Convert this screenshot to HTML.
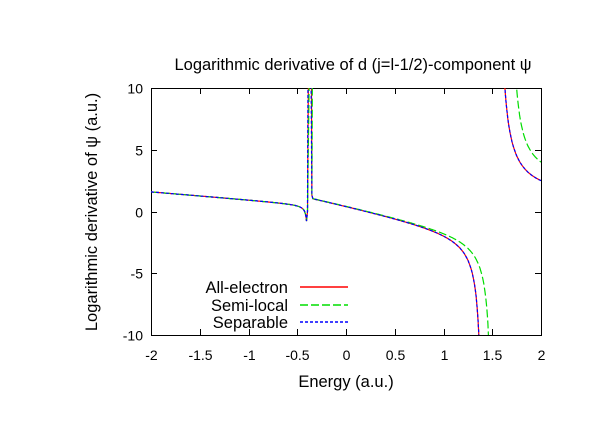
<!DOCTYPE html><html><head><style>body{margin:0;background:#fff}svg{display:block}text{font-family:"Liberation Sans",sans-serif;font-size:14px;fill:#000}.b{font-size:16.5px}</style></head><body>
<svg id="s" width="612" height="428" xmlns="http://www.w3.org/2000/svg">
<defs><clipPath id="c"><rect x="151" y="88" width="390" height="247"/></clipPath></defs>
<text class="b" x="353" y="70" text-anchor="middle">Logarithmic derivative of d (j=l-1/2)-component ψ</text>
<text class="b" transform="translate(97,212) rotate(-90)" text-anchor="middle">Logarithmic derivative of ψ (a.u.)</text>
<text class="b" x="346" y="387" text-anchor="middle">Energy (a.u.)</text>
<g id="ax" stroke="#000" fill="none" stroke-width="1"><rect x="151.5" y="88.5" width="390" height="247"/></g>
<g id="lab"></g>
<g clip-path="url(#c)" fill="none" stroke-width="1.2" id="cv"></g>
<text class="b" x="288" y="293" text-anchor="end">All-electron</text>
<text class="b" x="288" y="311" text-anchor="end">Semi-local</text>
<text class="b" x="288" y="328" text-anchor="end">Separable</text>
<line x1="300" y1="287" x2="348" y2="287" stroke="#ff0000" stroke-width="1.5"/>
<line x1="300" y1="305" x2="348" y2="305" stroke="#00dd00" stroke-width="1.5" stroke-dasharray="8,3"/>
<line x1="300" y1="322" x2="348" y2="322" stroke="#0000ff" stroke-width="1.5" stroke-dasharray="3,2"/>
</svg>
<script>
var X=e=>346+97.5*e,Y=v=>211.5-12.35*v,ns="http://www.w3.org/2000/svg";
var ax=document.getElementById('ax'),lab=document.getElementById('lab'),cv=document.getElementById('cv');
function el(p,t,a,txt){var n=document.createElementNS(ns,t);for(var k in a)n.setAttribute(k,a[k]);if(txt!=null)n.textContent=txt;p.appendChild(n);}
for(var i=-4;i<=4;i++){var e=i/2,x=Math.round(X(e))+.5;el(ax,'line',{x1:x,y1:88,x2:x,y2:94});el(ax,'line',{x1:x,y1:335,x2:x,y2:329});el(lab,'text',{x:x,y:360,'text-anchor':'middle'},String(e));}
for(var v=-10;v<=10;v+=5){var y=Math.round(Y(v))+.5;el(ax,'line',{x1:151,y1:y,x2:157,y2:y});el(ax,'line',{x1:541,y1:y,x2:535,y2:y});el(lab,'text',{x:143,y:y+5,'text-anchor':'end'},v);}
function left(e){return 0.3-0.65*e-0.02/Math.max(-0.39-e,0.012);}
function path(pole,pole2,k2,c2,sp){var d=[],e;
for(e=-2;e<=-0.405;e+=0.005)d.push([X(e),Y(left(e))]);
d.push([X(-0.395),Y(0)]);d.push([X(sp),Y(12)]);d.push([X(sp+0.03),Y(12)]);d.push([X(-0.35),Y(1.3)]);
for(e=-0.34;e<pole-0.01;e+=0.005){var v=0.68-1.7*e-0.4/(pole-e);d.push([X(e),Y(v)]);if(v<-12)break;}
var s='M'+d.map(p=>p[0].toFixed(1)+','+p[1].toFixed(1)).join('L');
var d2=[];for(e=pole2+0.03;e<=2.001;e+=0.005)d2.push([X(e),Y(k2/(e-pole2)+c2)]);
s+='M'+d2.map(p=>p[0].toFixed(1)+','+p[1].toFixed(1)).join('L');return s;}
el(cv,'path',{d:path(1.41,1.55,0.73,0.88,-0.385),stroke:'#ff0000'});
el(cv,'path',{d:path(1.51,1.67,0.634,2.08,-0.375),stroke:'#00dd00','stroke-dasharray':'8,3'});
el(cv,'path',{d:path(1.41,1.55,0.73,0.88,-0.39),stroke:'#0000ff','stroke-dasharray':'3,2'});
</script></body></html>
